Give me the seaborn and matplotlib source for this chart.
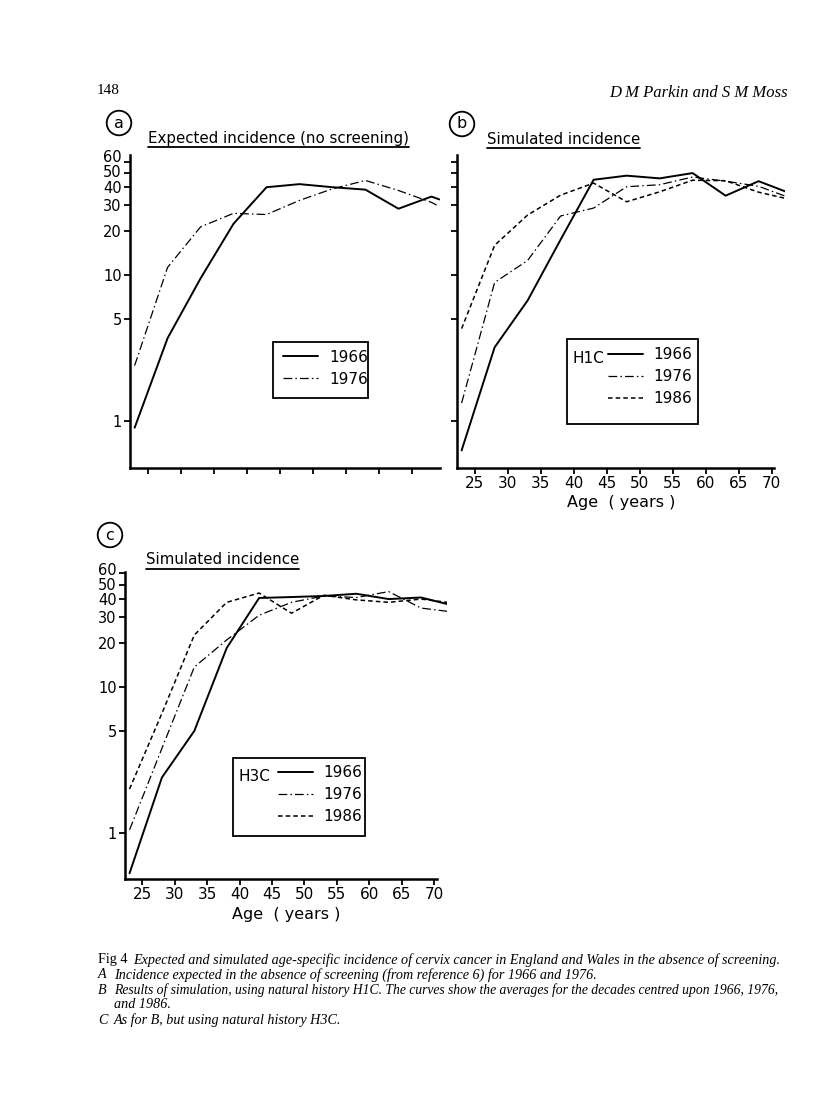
import numpy as np
import pandas as pd
import matplotlib.pyplot as plt
import matplotlib.transforms as mtransforms
import seaborn as sns
from matplotlib.lines import Line2D
from matplotlib.patches import Rectangle

sns.set_style("ticks")
plt.rcParams['font.family'] = ['DejaVu Sans']
plt.rcParams.update({'text.color': 'black', 'axes.labelcolor': 'black',
                     'xtick.color': 'black', 'ytick.color': 'black',
                     'axes.edgecolor': 'black'})

# values (incidence per 100 000, log axis)
ages_a = [23, 28, 33, 38, 43, 48, 53, 58, 63, 68, 69.2]
a_1966 = [0.9, 3.7, 9.5, 22.5, 40, 42, 40, 38.5, 28.5, 34.5, 33]
a_1976 = [2.4, 11.3, 21.4, 26.5, 26, 32.5, 39, 44.5, 38, 31.5, 29.5]

ages_bc = [23, 28, 33, 38, 43, 48, 53, 58, 63, 68, 72]
b_1966 = [0.63, 3.2, 6.7, 17.5, 45, 48, 46, 50, 35, 44, 37.5]
b_1976 = [1.33, 8.9, 12.6, 25.4, 28.8, 40.3, 41.6, 47, 44, 40.6, 34.8]
b_1986 = [4.3, 16, 25.8, 35.3, 42.7, 31.8, 37.2, 44.7, 44.3, 37, 33.6]

c_1966 = [0.53, 2.4, 5.0, 18.5, 40.7, 41.3, 42, 43.5, 40, 41, 37]
c_1976 = [1.05, 3.8, 13.7, 21, 31, 38, 42, 41, 45, 34.7, 33]
c_1986 = [2.0, 6.6, 22.7, 38, 44, 32, 42.5, 39.5, 38, 40, 38]

years = ['1966', '1976', '1986']
yticks = [1, 5, 10, 20, 30, 40, 50, 60]
xticks = [25, 30, 35, 40, 45, 50, 55, 60, 65, 70]

styles = {
    '1966': dict(linestyle='-', lw=1.4),
    '1976': dict(linestyle=(0, (7, 2.5, 1.2, 2.5)), lw=0.9),
    '1986': dict(linestyle=(0, (3, 2)), lw=1.1),
}

W, H = 816, 1095
fig = plt.figure(figsize=(W / 100, H / 100), dpi=100)


def px_axes(left, top, right, bottom):
    return fig.add_axes([left / W, 1 - bottom / H, (right - left) / W, (bottom - top) / H])


ax_a = px_axes(130, 155, 440, 468)
ax_b = px_axes(457, 155, 785, 468)
ax_c = px_axes(125, 572, 447, 879)


def draw(ax, ages, series):
    for yr, vals in series:
        sns.lineplot(x=ages, y=vals, ax=ax, color='black', **styles[yr])


draw(ax_a, ages_a, [('1966', a_1966), ('1976', a_1976)])
draw(ax_b, ages_bc, [('1966', b_1966), ('1976', b_1976), ('1986', b_1986)])
draw(ax_c, ages_bc, [('1966', c_1966), ('1976', c_1976), ('1986', c_1986)])

for ax, xr, yl, lab_x, lab_y, shifts in [(ax_a, (22.3, 69.3), (0.477, 66.5), False, True, (6, 2)),
                                         (ax_b, (22.3, 72), (0.477, 66.5), True, False, None),
                                         (ax_c, (22.3, 72), (0.484, 61.3), True, True, (4, 1))]:
    ax.set_yscale('log')
    ax.set_xlim(*xr)
    ax.set_ylim(*yl)
    sns.despine(ax=ax)
    ax.spines['left'].set_linewidth(1.8)
    ax.spines['bottom'].set_linewidth(1.8)
    ax.spines['bottom'].set_bounds(xr[0], min(xr[1], 70.4))
    ax.minorticks_off()
    ax.set_yticks(yticks)
    ax.set_yticklabels([str(t) for t in yticks] if lab_y else [])
    ax.set_xticks(xticks if lab_x else xticks[:-1])
    ax.set_xticklabels([str(t) for t in xticks] if lab_x else [])
    ax.tick_params(axis='both', direction='out', length=4, width=1.3, labelsize=11, pad=2)
    ax.tick_params(axis='y', labelsize=10.5)
    ax.set_xlabel('')
    ax.set_ylabel('')
    if lab_x:
        ax.set_xlabel('Age  ( years )', fontsize=11.5, labelpad=3)
    if shifts:
        # crowded top labels sit a little above their ticks, as in the print
        labs = ax.get_yticklabels()
        for lab, dy in [(labs[-1], shifts[0]), (labs[-2], shifts[1])]:
            lab.set_transform(lab.get_transform() +
                              mtransforms.ScaledTranslation(0, dy / 100, fig.dpi_scale_trans))


def legend_box(ax, box, tag, yrs, anchor):
    ax.add_patch(Rectangle((box[0], box[1]), box[2] - box[0], box[3] - box[1],
                           transform=ax.transAxes, fill=False, ec='black', lw=1.3, zorder=5))
    handles = [Line2D([], [], color='black', **styles[y]) for y in yrs]
    leg = ax.legend(handles, yrs, loc='upper left', bbox_to_anchor=anchor, frameon=False,
                    fontsize=11, handlelength=2.3, handletextpad=0.7, labelspacing=0.45,
                    borderpad=0, borderaxespad=0)
    if tag:
        ax.text(box[0] + 0.018, anchor[1] - 0.035, tag, transform=ax.transAxes,
                fontsize=11, va='center', ha='left')
    return leg


legend_box(ax_a, (0.461, 0.224, 0.768, 0.403), None, years[:2], (0.494, 0.378))
legend_box(ax_b, (0.335, 0.141, 0.735, 0.412), 'H1C', years, (0.46, 0.385))
legend_box(ax_c, (0.335, 0.140, 0.745, 0.394), 'H3C', years, (0.475, 0.37))

# panel titles with underline, circled letters
titles = [(148, 138, 'Expected incidence (no screening)'),
          (487, 139, 'Simulated incidence'),
          (146, 560, 'Simulated incidence')]
ttexts = [fig.text(x / W, 1 - y / H, s, fontsize=10.8, va='center', ha='left') for x, y, s in titles]
for x, y, s in [(119, 123, 'a'), (462, 124, 'b'), (110, 535, 'c')]:
    fig.text(x / W, 1 - y / H, s, fontsize=11.5, ha='center', va='center',
             bbox=dict(boxstyle='circle,pad=0.3', fc='none', ec='black', lw=1.3))

fig.canvas.draw()
for t in ttexts:
    bb = t.get_window_extent()
    yy = bb.y0 - 1
    fig.add_artist(Line2D([bb.x0 / W, bb.x1 / W], [yy / H, yy / H], color='black', lw=1.3,
                          transform=fig.transFigure))

# page header
fig.text(97 / W, 1 - 91 / H, '148', family='Liberation Serif', fontsize=11, va='center')
fig.text(788 / W, 1 - 93 / H, 'D M Parkin and S M Moss', family='Liberation Serif',
         style='italic', fontsize=12, va='center', ha='right')

# caption
cap = [(960, 'Fig 4', 'Expected and simulated age-specific incidence of cervix cancer in England and Wales in the absence of screening.', 133, 10.2),
       (975, 'A', 'Incidence expected in the absence of screening (from reference 6) for 1966 and 1976.', 114, 10.2),
       (990, 'B', 'Results of simulation, using natural history H1C. The curves show the averages for the decades centred upon 1966, 1976,', 114, 9.8),
       (1004, '', 'and 1986.', 114, 10.2),
       (1020, 'C', 'As for B, but using natural history H3C.', 114, 10.2)]
for y, head, body, xb, fs in cap:
    if head:
        fig.text(98 / W, 1 - y / H, head, family='Liberation Serif',
                 style='normal' if head.startswith('Fig') else 'italic', fontsize=10.2, va='center')
    fig.text(xb / W, 1 - y / H, body, family='Liberation Serif', style='italic',
             fontsize=fs, va='center')

fig.savefig('out.png', dpi=100)
